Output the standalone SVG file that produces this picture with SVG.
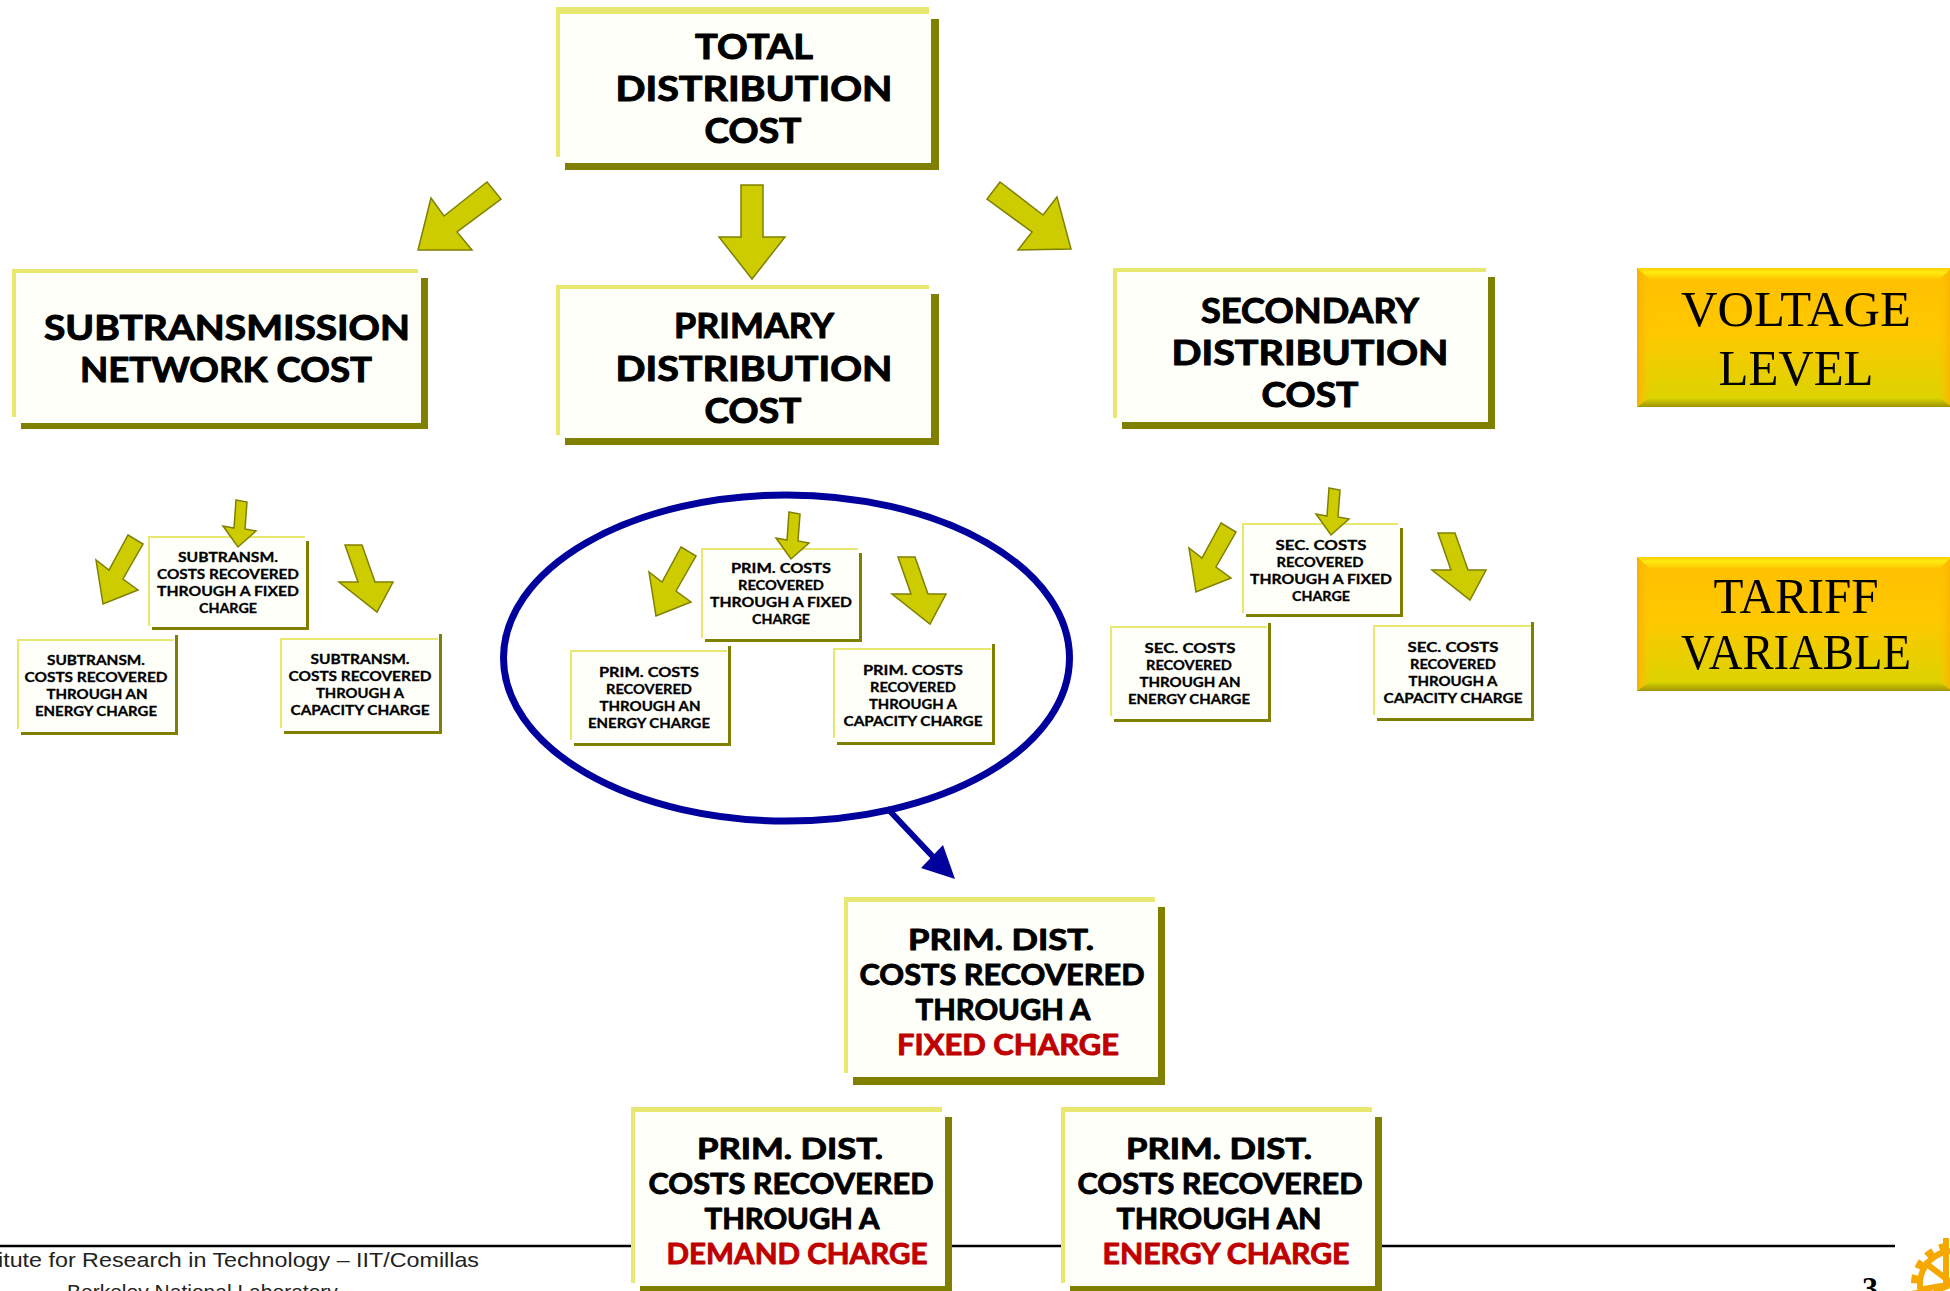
<svg xmlns="http://www.w3.org/2000/svg" width="1950" height="1291" viewBox="0 0 1950 1291">
<style>
.lt{fill:#E8E870}.dk{fill:#808000}.fc{fill:#FFFFFA}
text{text-anchor:middle;fill:#000}
.c{font-family:"Lato","Open Sans","DejaVu Sans",sans-serif;font-weight:700;stroke:#000;stroke-linejoin:round}
.b{font-size:34px;stroke-width:1px}
.m{font-size:28.5px;stroke-width:.9px}
.s{font-size:13.5px;stroke-width:.3px}
.red{fill:#C00000;stroke:#C00000}
.t{font-family:"Liberation Serif","Times New Roman",serif;font-size:50px}
.f{font-family:"Liberation Sans",Arial,sans-serif;font-size:21px;text-anchor:start;fill:#222}
.ar{fill:#CCCC00;stroke:#808000;stroke-width:1.5;stroke-linejoin:miter}
</style>
<defs>
<linearGradient id="gold" x1="0" y1="0" x2="0" y2="1"><stop offset="0" stop-color="#FFBE00"/><stop offset=".45" stop-color="#FFC800"/><stop offset="1" stop-color="#D8D400"/></linearGradient>
<linearGradient id="bevTop" x1="0" y1="0" x2="0" y2="1"><stop offset="0" stop-color="#FFD000"/><stop offset=".4" stop-color="#FFEA10"/><stop offset="1" stop-color="#FFC800"/></linearGradient>
<linearGradient id="bevBot" x1="0" y1="0" x2="0" y2="1"><stop offset="0" stop-color="#D8D400"/><stop offset="1" stop-color="#A09400"/></linearGradient>
<linearGradient id="bevL" x1="0" y1="0" x2="1" y2="0"><stop offset="0" stop-color="#F8B000"/><stop offset="1" stop-color="#FFC400" stop-opacity=".2"/></linearGradient>
<linearGradient id="bevR" x1="1" y1="0" x2="0" y2="0"><stop offset="0" stop-color="#F8B000"/><stop offset="1" stop-color="#FFC400" stop-opacity=".2"/></linearGradient>
</defs>
<rect width="1950" height="1291" fill="#FFFFFF"/>

<g id="footer">
<line x1="0" y1="1246" x2="1895" y2="1246" stroke="#000" stroke-width="2.5"/>
<text class="f" x="-2" y="1267" textLength="481" lengthAdjust="spacingAndGlyphs">itute for Research in Technology – IIT/Comillas</text>
<text class="f" x="67" y="1299">Berkeley National Laboratory</text>
<text x="1870" y="1299" font-family="Liberation Serif,serif" font-weight="700" font-size="32">3</text>
<g id="logo" fill="none" stroke="#F5A800">
<circle cx="1953" cy="1284" r="38" stroke-width="8" stroke-dasharray="8 7"/>
<circle cx="1953" cy="1284" r="33" stroke-width="6"/>
<path d="M1953 1284L1924 1262M1953 1284L1918 1290M1946 1238L1946 1284M1953 1284L1934 1291" stroke-width="6"/>
</g>
</g>

<g id="total"><rect class="lt" x="556" y="7" width="373" height="7"/><rect class="lt" x="556" y="7" width="4" height="150"/><rect class="fc" x="560" y="14" width="371" height="149"/><rect class="dk" x="931" y="19" width="8" height="151"/><rect class="dk" x="565" y="163" width="374" height="7"/>
<text class="c b" x="754" y="59" textLength="118" lengthAdjust="spacingAndGlyphs">TOTAL</text><text class="c b" x="754" y="101" textLength="277" lengthAdjust="spacingAndGlyphs">DISTRIBUTION</text><text class="c b" x="753" y="143" textLength="97" lengthAdjust="spacingAndGlyphs">COST</text></g>

<g id="subtransmission"><rect class="lt" x="12" y="269" width="406" height="4"/><rect class="lt" x="12" y="269" width="4" height="148"/><rect class="fc" x="16" y="273" width="405" height="150"/><rect class="dk" x="421" y="278" width="7" height="151"/><rect class="dk" x="21" y="423" width="407" height="6"/>
<text class="c b" x="227" y="340" textLength="366" lengthAdjust="spacingAndGlyphs">SUBTRANSMISSION</text><text class="c b" x="226" y="382" textLength="292" lengthAdjust="spacingAndGlyphs">NETWORK COST</text></g>

<g id="primary"><rect class="lt" x="556" y="285" width="373" height="4"/><rect class="lt" x="556" y="285" width="4" height="150"/><rect class="fc" x="560" y="289" width="371" height="150"/><rect class="dk" x="931" y="294" width="8" height="151"/><rect class="dk" x="565" y="438" width="374" height="7"/>
<text class="c b" x="754" y="338" textLength="160" lengthAdjust="spacingAndGlyphs">PRIMARY</text><text class="c b" x="754" y="381" textLength="277" lengthAdjust="spacingAndGlyphs">DISTRIBUTION</text><text class="c b" x="753" y="423" textLength="97" lengthAdjust="spacingAndGlyphs">COST</text></g>

<g id="secondary"><rect class="lt" x="1113" y="268" width="373" height="4"/><rect class="lt" x="1113" y="268" width="4" height="150"/><rect class="fc" x="1117" y="272" width="371" height="150"/><rect class="dk" x="1488" y="277" width="7" height="152"/><rect class="dk" x="1122" y="422" width="373" height="7"/>
<text class="c b" x="1310" y="323" textLength="218" lengthAdjust="spacingAndGlyphs">SECONDARY</text><text class="c b" x="1310" y="365" textLength="277" lengthAdjust="spacingAndGlyphs">DISTRIBUTION</text><text class="c b" x="1310" y="407" textLength="97" lengthAdjust="spacingAndGlyphs">COST</text></g>

<g id="voltage-level"><rect x="1637" y="268" width="315" height="139" fill="url(#gold)"/><polygon points="1637,268 1952,268 1940,279 1649,279" fill="url(#bevTop)"/><polygon points="1637,268 1649,279 1649,398 1637,407" fill="url(#bevL)"/><polygon points="1637,407 1952,407 1940,398 1649,398" fill="url(#bevBot)"/><polygon points="1952,268 1940,279 1940,398 1952,407" fill="url(#bevR)"/>
<text class="t" x="1796" y="326" textLength="230" lengthAdjust="spacingAndGlyphs">VOLTAGE</text><text class="t" x="1796" y="385" textLength="155" lengthAdjust="spacingAndGlyphs">LEVEL</text></g>
<g id="tariff-variable"><rect x="1637" y="557" width="315" height="134" fill="url(#gold)"/><polygon points="1637,557 1952,557 1940,568 1649,568" fill="url(#bevTop)"/><polygon points="1637,557 1649,568 1649,682 1637,691" fill="url(#bevL)"/><polygon points="1637,691 1952,691 1940,682 1649,682" fill="url(#bevBot)"/><polygon points="1952,557 1940,568 1940,682 1952,691" fill="url(#bevR)"/>
<text class="t" x="1796" y="613" textLength="165" lengthAdjust="spacingAndGlyphs">TARIFF</text><text class="t" x="1796" y="669" textLength="230" lengthAdjust="spacingAndGlyphs">VARIABLE</text></g>

<!-- subtransmission cluster -->
<g id="sub-fixed"><rect class="lt" x="148" y="536" width="157" height="2"/><rect class="lt" x="148" y="536" width="2" height="90"/><rect class="fc" x="150" y="538" width="156" height="89"/><rect class="dk" x="306" y="541" width="3" height="89"/><rect class="dk" x="152" y="627" width="157" height="3"/>
<text class="c s" x="228" y="562" textLength="100" lengthAdjust="spacingAndGlyphs">SUBTRANSM.</text><text class="c s" x="228" y="579" textLength="142" lengthAdjust="spacingAndGlyphs">COSTS RECOVERED</text><text class="c s" x="228" y="596" textLength="142" lengthAdjust="spacingAndGlyphs">THROUGH A FIXED</text><text class="c s" x="228" y="613" textLength="58" lengthAdjust="spacingAndGlyphs">CHARGE</text></g>
<g id="sub-energy"><rect class="lt" x="17" y="639" width="157" height="2"/><rect class="lt" x="17" y="639" width="2" height="90"/><rect class="fc" x="19" y="641" width="156" height="91"/><rect class="dk" x="175" y="635" width="3" height="100"/><rect class="dk" x="21" y="732" width="157" height="3"/>
<text class="c s" x="96" y="665" textLength="98" lengthAdjust="spacingAndGlyphs">SUBTRANSM.</text><text class="c s" x="96" y="682" textLength="143" lengthAdjust="spacingAndGlyphs">COSTS RECOVERED</text><text class="c s" x="97" y="699" textLength="101" lengthAdjust="spacingAndGlyphs">THROUGH AN</text><text class="c s" x="96" y="716" textLength="122" lengthAdjust="spacingAndGlyphs">ENERGY CHARGE</text></g>
<g id="sub-capacity"><rect class="lt" x="280" y="638" width="158" height="2"/><rect class="lt" x="280" y="638" width="2" height="90"/><rect class="fc" x="282" y="640" width="157" height="92"/><rect class="dk" x="439" y="634" width="3" height="100"/><rect class="dk" x="284" y="731" width="158" height="3"/>
<text class="c s" x="360" y="664" textLength="99" lengthAdjust="spacingAndGlyphs">SUBTRANSM.</text><text class="c s" x="360" y="681" textLength="143" lengthAdjust="spacingAndGlyphs">COSTS RECOVERED</text><text class="c s" x="360" y="698" textLength="88" lengthAdjust="spacingAndGlyphs">THROUGH A</text><text class="c s" x="360" y="715" textLength="139" lengthAdjust="spacingAndGlyphs">CAPACITY CHARGE</text></g>

<!-- primary cluster -->
<g id="prim-fixed"><rect class="lt" x="701" y="548" width="157" height="2"/><rect class="lt" x="701" y="548" width="2" height="90"/><rect class="fc" x="703" y="550" width="156" height="89"/><rect class="dk" x="859" y="553" width="3" height="89"/><rect class="dk" x="705" y="639" width="157" height="3"/>
<text class="c s" x="781" y="573" textLength="100" lengthAdjust="spacingAndGlyphs">PRIM. COSTS</text><text class="c s" x="781" y="590" textLength="86" lengthAdjust="spacingAndGlyphs">RECOVERED</text><text class="c s" x="781" y="607" textLength="142" lengthAdjust="spacingAndGlyphs">THROUGH A FIXED</text><text class="c s" x="781" y="624" textLength="58" lengthAdjust="spacingAndGlyphs">CHARGE</text></g>
<g id="prim-energy"><rect class="lt" x="570" y="650" width="157" height="2"/><rect class="lt" x="570" y="650" width="2" height="90"/><rect class="fc" x="572" y="652" width="156" height="92"/><rect class="dk" x="728" y="646" width="3" height="100"/><rect class="dk" x="574" y="743" width="157" height="3"/>
<text class="c s" x="649" y="677" textLength="100" lengthAdjust="spacingAndGlyphs">PRIM. COSTS</text><text class="c s" x="649" y="694" textLength="86" lengthAdjust="spacingAndGlyphs">RECOVERED</text><text class="c s" x="650" y="711" textLength="101" lengthAdjust="spacingAndGlyphs">THROUGH AN</text><text class="c s" x="649" y="728" textLength="122" lengthAdjust="spacingAndGlyphs">ENERGY CHARGE</text></g>
<g id="prim-capacity"><rect class="lt" x="833" y="648" width="158" height="2"/><rect class="lt" x="833" y="648" width="2" height="90"/><rect class="fc" x="835" y="650" width="157" height="93"/><rect class="dk" x="992" y="644" width="3" height="101"/><rect class="dk" x="837" y="742" width="158" height="3"/>
<text class="c s" x="913" y="675" textLength="100" lengthAdjust="spacingAndGlyphs">PRIM. COSTS</text><text class="c s" x="913" y="692" textLength="86" lengthAdjust="spacingAndGlyphs">RECOVERED</text><text class="c s" x="913" y="709" textLength="88" lengthAdjust="spacingAndGlyphs">THROUGH A</text><text class="c s" x="913" y="726" textLength="139" lengthAdjust="spacingAndGlyphs">CAPACITY CHARGE</text></g>

<!-- secondary cluster -->
<g id="sec-fixed"><rect class="lt" x="1242" y="523" width="156" height="2"/><rect class="lt" x="1242" y="523" width="2" height="90"/><rect class="fc" x="1244" y="525" width="156" height="89"/><rect class="dk" x="1400" y="528" width="3" height="89"/><rect class="dk" x="1246" y="614" width="157" height="3"/>
<text class="c s" x="1321" y="550" textLength="91" lengthAdjust="spacingAndGlyphs">SEC. COSTS</text><text class="c s" x="1320" y="567" textLength="87" lengthAdjust="spacingAndGlyphs">RECOVERED</text><text class="c s" x="1321" y="584" textLength="142" lengthAdjust="spacingAndGlyphs">THROUGH A FIXED</text><text class="c s" x="1321" y="601" textLength="58" lengthAdjust="spacingAndGlyphs">CHARGE</text></g>
<g id="sec-energy"><rect class="lt" x="1110" y="626" width="157" height="2"/><rect class="lt" x="1110" y="626" width="2" height="90"/><rect class="fc" x="1112" y="628" width="156" height="91"/><rect class="dk" x="1268" y="623" width="3" height="99"/><rect class="dk" x="1114" y="719" width="157" height="3"/>
<text class="c s" x="1190" y="653" textLength="91" lengthAdjust="spacingAndGlyphs">SEC. COSTS</text><text class="c s" x="1189" y="670" textLength="86" lengthAdjust="spacingAndGlyphs">RECOVERED</text><text class="c s" x="1190" y="687" textLength="101" lengthAdjust="spacingAndGlyphs">THROUGH AN</text><text class="c s" x="1189" y="704" textLength="122" lengthAdjust="spacingAndGlyphs">ENERGY CHARGE</text></g>
<g id="sec-capacity"><rect class="lt" x="1373" y="625" width="158" height="2"/><rect class="lt" x="1373" y="625" width="2" height="90"/><rect class="fc" x="1375" y="627" width="156" height="91"/><rect class="dk" x="1531" y="622" width="3" height="99"/><rect class="dk" x="1377" y="718" width="157" height="3"/>
<text class="c s" x="1453" y="652" textLength="91" lengthAdjust="spacingAndGlyphs">SEC. COSTS</text><text class="c s" x="1453" y="669" textLength="86" lengthAdjust="spacingAndGlyphs">RECOVERED</text><text class="c s" x="1453" y="686" textLength="89" lengthAdjust="spacingAndGlyphs">THROUGH A</text><text class="c s" x="1453" y="703" textLength="139" lengthAdjust="spacingAndGlyphs">CAPACITY CHARGE</text></g>

<g id="prim-fixed-charge"><rect class="lt" x="844" y="897" width="311" height="5"/><rect class="lt" x="844" y="897" width="4" height="176"/><rect class="fc" x="848" y="902" width="310" height="175"/><rect class="dk" x="1158" y="907" width="7" height="178"/><rect class="dk" x="853" y="1077" width="312" height="8"/>
<text class="c m" x="1001" y="950" textLength="186" lengthAdjust="spacingAndGlyphs">PRIM. DIST.</text><text class="c m" x="1002" y="985" textLength="285" lengthAdjust="spacingAndGlyphs">COSTS RECOVERED</text><text class="c m" x="1003" y="1020" textLength="175" lengthAdjust="spacingAndGlyphs">THROUGH A</text><text class="c m red" x="1008" y="1055" textLength="222" lengthAdjust="spacingAndGlyphs">FIXED CHARGE</text></g>
<g id="prim-demand-charge"><rect class="lt" x="631" y="1107" width="311" height="5"/><rect class="lt" x="631" y="1107" width="4" height="176"/><rect class="fc" x="635" y="1112" width="310" height="175"/><rect class="dk" x="945" y="1117" width="7" height="178"/><rect class="dk" x="640" y="1286" width="312" height="8"/>
<text class="c m" x="790" y="1159" textLength="186" lengthAdjust="spacingAndGlyphs">PRIM. DIST.</text><text class="c m" x="791" y="1194" textLength="285" lengthAdjust="spacingAndGlyphs">COSTS RECOVERED</text><text class="c m" x="792" y="1229" textLength="175" lengthAdjust="spacingAndGlyphs">THROUGH A</text><text class="c m red" x="797" y="1264" textLength="261" lengthAdjust="spacingAndGlyphs">DEMAND CHARGE</text></g>
<g id="prim-energy-charge"><rect class="lt" x="1061" y="1107" width="311" height="5"/><rect class="lt" x="1061" y="1107" width="4" height="176"/><rect class="fc" x="1065" y="1112" width="310" height="175"/><rect class="dk" x="1375" y="1117" width="7" height="178"/><rect class="dk" x="1070" y="1286" width="312" height="8"/>
<text class="c m" x="1219" y="1159" textLength="186" lengthAdjust="spacingAndGlyphs">PRIM. DIST.</text><text class="c m" x="1220" y="1194" textLength="285" lengthAdjust="spacingAndGlyphs">COSTS RECOVERED</text><text class="c m" x="1219" y="1229" textLength="205" lengthAdjust="spacingAndGlyphs">THROUGH AN</text><text class="c m red" x="1226" y="1264" textLength="247" lengthAdjust="spacingAndGlyphs">ENERGY CHARGE</text></g>

<g id="connectors">
<polygon class="ar" points="487,182 501,199 457,232 472,250 418,250 431,198 444,216"/>
<polygon class="ar" points="741,185 763,185 763,237 785,237 752,279 719,237 741,237"/>
<polygon class="ar" points="1000,182 987,199 1032,232 1018,250 1071,249 1057,197 1043,215"/>
<g id="sub-arrows"><polygon class="ar" points="236,500 247,502 245,529 256,531 238,547 223,526 234,528"/><polygon class="ar" points="128,535 143,544 123,579 138,590 103,604 96,560 109,570"/><polygon class="ar" points="345,545 362,545 375,582 393,582 377,612 339,582 358,582"/></g>
<g id="prim-arrows" transform="translate(553,12)"><polygon class="ar" points="236,500 247,502 245,529 256,531 238,547 223,526 234,528"/><polygon class="ar" points="128,535 143,544 123,579 138,590 103,604 96,560 109,570"/><polygon class="ar" points="345,545 362,545 375,582 393,582 377,612 339,582 358,582"/></g>
<g id="sec-arrows" transform="translate(1093,-12)"><polygon class="ar" points="236,500 247,502 245,529 256,531 238,547 223,526 234,528"/><polygon class="ar" points="128,535 143,544 123,579 138,590 103,604 96,560 109,570"/><polygon class="ar" points="345,545 362,545 375,582 393,582 377,612 339,582 358,582"/></g>
<ellipse id="highlight" cx="786.5" cy="658" rx="283" ry="163" fill="none" stroke="#00009C" stroke-width="7"/>
<line x1="887" y1="808" x2="936" y2="860" stroke="#00009C" stroke-width="6"/>
<polygon points="955,879 943,845 921,868" fill="#00009C"/>
</g>
</svg>
